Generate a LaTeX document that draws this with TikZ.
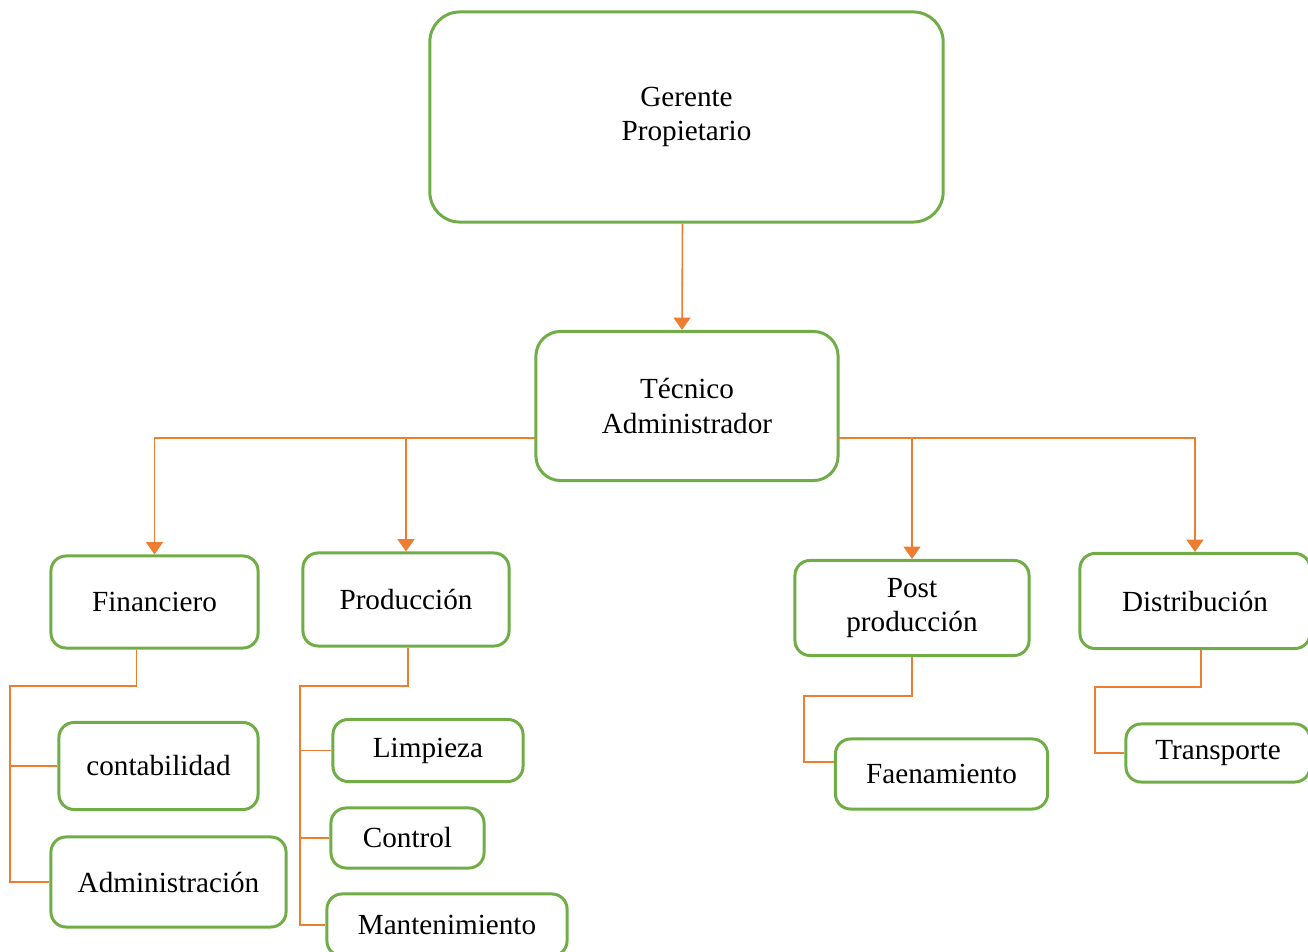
\documentclass[tikz,border=0pt]{standalone}
\usepackage{fontspec}
\setmainfont{Liberation Serif}
\usepackage{tikz}
\usetikzlibrary{positioning,arrows.meta,calc}
\definecolor{leaf}{HTML}{70AD47}
\definecolor{warm}{HTML}{ED7D31}

\begin{document}
\begin{tikzpicture}[x=0.01cm,y=-0.01cm,
  box/.style={draw=leaf,line width=0.85pt,rounded corners=4.3pt,align=center,inner sep=0pt,
    font=\fontsize{8.3}{9.7}\selectfont},
  link/.style={warm,line width=0.45pt},
  arr/.style={link,-{Triangle[width=4.8pt,length=3.5pt]}}]
  \useasboundingbox (0,0) rectangle (1308,952);
  % top levels
  \node[box,minimum width=5.13cm,minimum height=2.10cm,rounded corners=8.5pt] (ger) at (686.5,117) {Gerente\\Propietario};
  \node[box,minimum width=3.02cm,minimum height=1.49cm,rounded corners=7pt] (tec) at (687,406) {Técnico\\Administrador};
  \draw[arr] ($(ger.south)+(-4,0)$)--($(tec.north)+(-5,0)$);
  % departments
  \node[box,minimum width=2.07cm,minimum height=0.92cm] (fin) at (154.5,602) {Financiero};
  \node[box,minimum width=2.06cm,minimum height=0.93cm] (prod) at (406,599.5) {Producción};
  \node[box,minimum width=2.34cm,minimum height=0.95cm] (post) at (912,608) {Post\\producción};
  \node[box,minimum width=2.30cm,minimum height=0.95cm] (dist) at (1195,601) {Distribución};
  \coordinate (tl) at (536,438);\coordinate (tr) at (838,438);
  \draw[arr] (tl)-|(fin.north); \draw[arr] (tl)-|(prod.north);
  \draw[arr] (tr)-|(post.north); \draw[arr] (tr)-|(dist.north);
  % sections
  \node[box,minimum width=1.99cm,minimum height=0.87cm] (cont) at (158.5,766) {contabilidad};
  \node[box,minimum width=2.35cm,minimum height=0.90cm] (adm) at (168.5,882) {Administración};
  \node[box,minimum width=1.90cm,minimum height=0.62cm] (limp) at (428,750.5) {Limpieza};
  \node[box,minimum width=1.53cm,minimum height=0.60cm] (ctrl) at (407.5,838) {Control};
  \node[box,minimum width=2.40cm,minimum height=0.62cm] (mant) at (447,925) {Mantenimiento};
  \node[box,minimum width=2.12cm,minimum height=0.70cm] (faen) at (941.5,774) {Faenamiento};
  \node[box,minimum width=1.84cm,minimum height=0.58cm] (trans) at (1218,753) {Transporte};
  \coordinate (fk) at (10,686);\coordinate (pk) at (300,686);
  \coordinate (qk) at (804,696);\coordinate (dk) at (1095,687);
  \draw[link] ($(fin.south)+(-18,0)$)|-(fk)|-(adm.west); \draw[link] (fk|-cont.west)--(cont.west);
  \draw[link] ($(prod.south)+(2,0)$)|-(pk)|-(mant.west);
  \draw[link] (pk|-limp.west)--(limp.west); \draw[link] (pk|-ctrl.west)--(ctrl.west);
  \draw[link] (post.south)|-(qk)|-($(faen.west)+(0,-12)$);
  \draw[link] ($(dist.south)+(6,0)$)|-(dk)|-(trans.west);
\end{tikzpicture}
\end{document}
